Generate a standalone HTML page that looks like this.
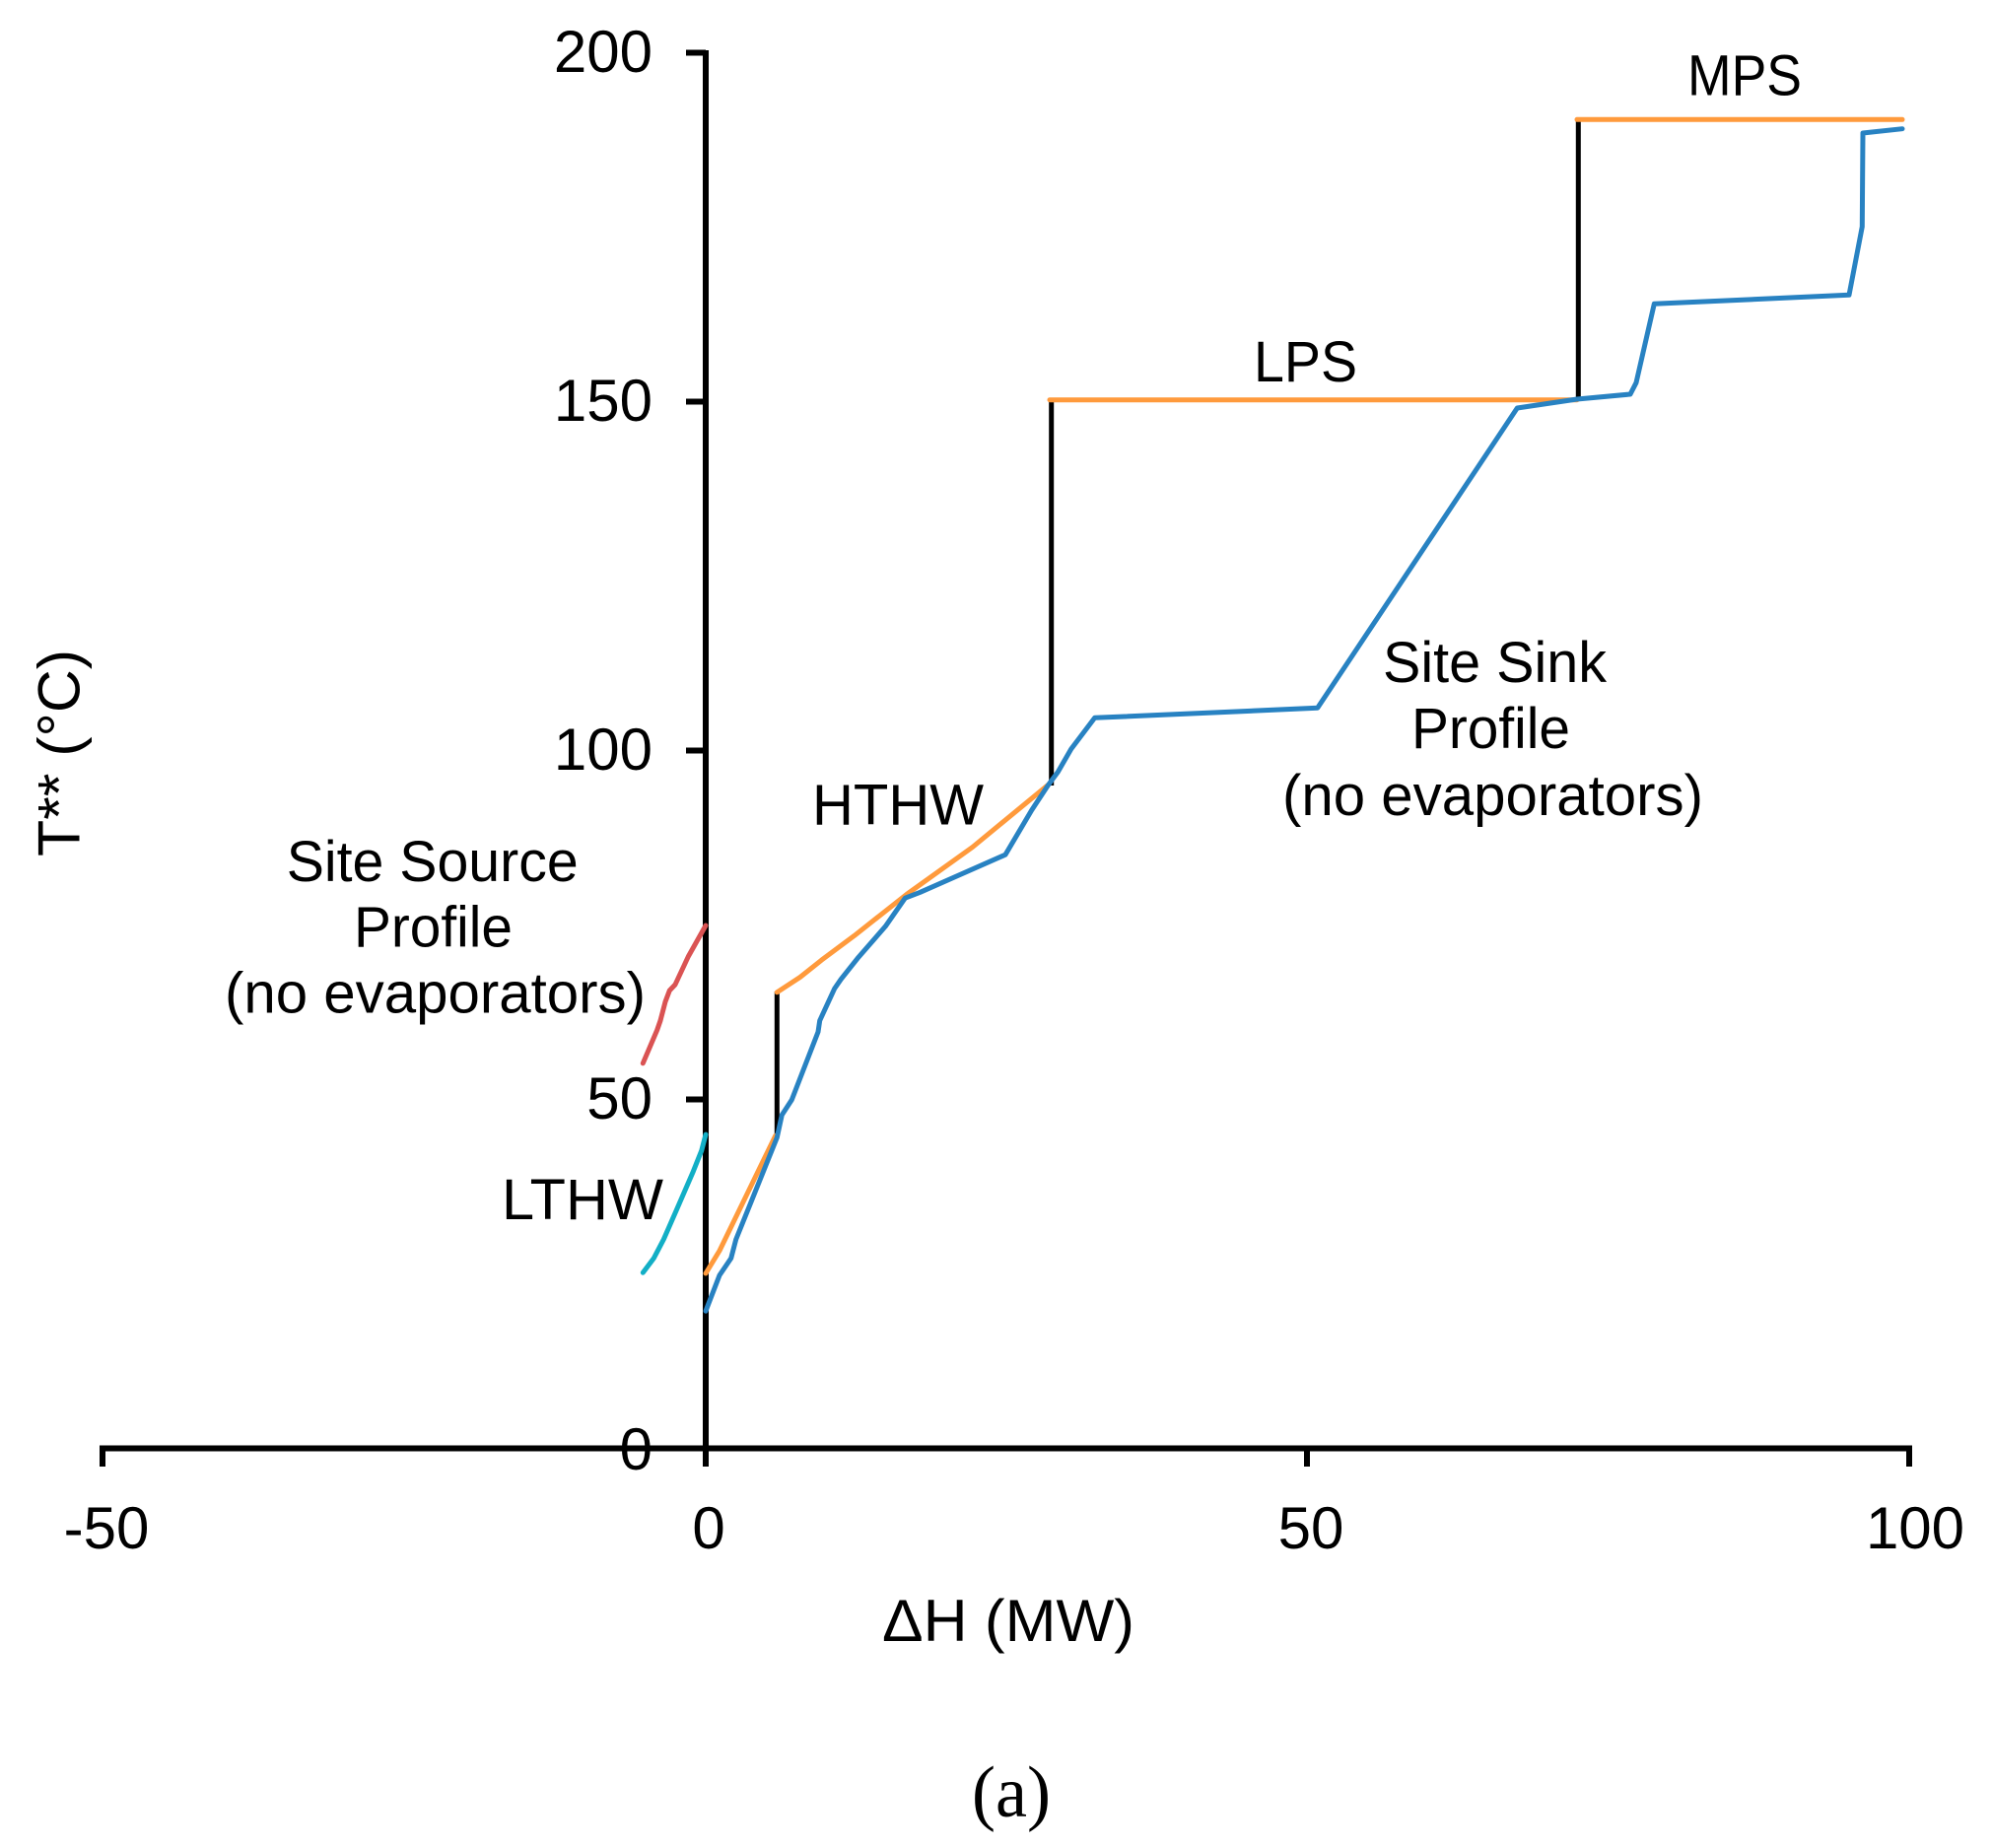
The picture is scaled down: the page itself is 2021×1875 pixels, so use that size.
<!DOCTYPE html>
<html>
<head>
<meta charset="utf-8">
<style>
  html, body { margin: 0; padding: 0; background: #ffffff; }
  svg { display: block; }
  .t { font-family: "Liberation Sans", Arial, sans-serif; fill: #000; }
  .s { font-family: "Liberation Serif", "Times New Roman", serif; fill: #000; }
</style>
</head>
<body>
<svg width="2021" height="1875" viewBox="0 0 2021 1875" xmlns="http://www.w3.org/2000/svg">
  <rect x="0" y="0" width="2021" height="1875" fill="#ffffff"/>

  <!-- Axes -->
  <g stroke="#000" stroke-width="6" fill="none" stroke-linecap="butt">
    <line x1="716" y1="51" x2="716" y2="1488"/>
    <line x1="101" y1="1469.5" x2="1940" y2="1469.5"/>
    <!-- y ticks -->
    <line x1="696" y1="53.5" x2="716" y2="53.5"/>
    <line x1="696" y1="407.5" x2="716" y2="407.5"/>
    <line x1="696" y1="761.5" x2="716" y2="761.5"/>
    <line x1="696" y1="1115.5" x2="716" y2="1115.5"/>
    <!-- x ticks -->
    <line x1="104" y1="1467" x2="104" y2="1488"/>
    <line x1="1326" y1="1469.5" x2="1326" y2="1488"/>
    <line x1="1937" y1="1467" x2="1937" y2="1488"/>
  </g>

  <!-- Y tick labels -->
  <g class="t" font-size="60" text-anchor="end">
    <text x="662" y="73">200</text>
    <text x="662" y="427">150</text>
    <text x="662" y="781">100</text>
    <text x="662" y="1135">50</text>
    <text x="662" y="1491">0</text>
  </g>

  <!-- X tick labels -->
  <g class="t" font-size="60" text-anchor="middle">
    <text x="108" y="1571">-50</text>
    <text x="719" y="1571">0</text>
    <text x="1330" y="1571">50</text>
    <text x="1943" y="1571">100</text>
  </g>

  <!-- Axis titles -->
  <text class="t" font-size="60" x="895" y="1665" textLength="256" lengthAdjust="spacingAndGlyphs">ΔH (MW)</text>
  <text class="t" font-size="60" text-anchor="middle" transform="translate(80.5,764) rotate(-90)" textLength="210" lengthAdjust="spacingAndGlyphs">T** (°C)</text>

  <!-- Black vertical connectors -->
  <g stroke="#000" stroke-width="5" fill="none">
    <line x1="788.3" y1="1152" x2="788.3" y2="1006"/>
    <line x1="1066.7" y1="797" x2="1066.7" y2="405"/>
    <line x1="1601.3" y1="405" x2="1601.3" y2="121"/>
  </g>

  <!-- Orange utility profiles -->
  <g stroke="#FF9A3C" stroke-width="5" fill="none" stroke-linecap="round" stroke-linejoin="round">
    <polyline points="716,1292 730,1269 786.7,1152.3"/>
    <polyline points="788.3,1006.8 811.7,991.5 833.3,974.3 866.7,949.4 920,907.3 986.7,859.5 1063.3,796.4"/>
    <line x1="1065" y1="405.7" x2="1600" y2="405.7"/>
    <line x1="1600" y1="121.3" x2="1930" y2="121.3"/>
  </g>

  <!-- Red source profile -->
  <polyline points="652.3,1078.8 666.7,1045 670,1035.5 675,1016.4 679.3,1005 685,999 698.3,970.5 716,939"
    stroke="#DA5353" stroke-width="5" fill="none" stroke-linecap="round" stroke-linejoin="round"/>

  <!-- Cyan LTHW -->
  <polyline points="652.3,1291.2 663.3,1276.6 673.3,1257.5 686.7,1226.9 703.3,1188.6 711.7,1167.6 716,1151.1"
    stroke="#12AFC6" stroke-width="5" fill="none" stroke-linecap="round" stroke-linejoin="round"/>

  <!-- Blue sink profile -->
  <polyline points="716,1330.2 730,1293.9 741.7,1276.6 746.7,1257.5 788.3,1154.2 793.3,1131.2 803.3,1115.9 830,1047 831.7,1035.5 846.7,1003 853.3,993.4 870,972.4 898.3,939.9 918.3,911.2 933.3,905.4 1020,867.2 1046.7,822 1063.3,796.7 1073.3,783.3 1086.7,760 1110.7,728.3 1336.7,718.3 1539.3,414 1600,405 1654,400 1660,388.3 1678.3,308.3 1876,299.3 1889.3,230 1890,135 1930,130.7"
    stroke="#2882C2" stroke-width="5" fill="none" stroke-linecap="round" stroke-linejoin="round"/>

  <!-- Annotations -->
  <g class="t" font-size="58">
    <text x="1712" y="96.7" textLength="116" lengthAdjust="spacingAndGlyphs">MPS</text>
    <text x="1272" y="387" textLength="105" lengthAdjust="spacingAndGlyphs">LPS</text>
    <text x="824" y="836.5" textLength="174" lengthAdjust="spacingAndGlyphs">HTHW</text>
    <text x="509" y="1237" textLength="164" lengthAdjust="spacingAndGlyphs">LTHW</text>

    <text x="290.7" y="894" textLength="296" lengthAdjust="spacingAndGlyphs">Site Source</text>
    <text x="359" y="960.7" textLength="161" lengthAdjust="spacingAndGlyphs">Profile</text>
    <text x="228" y="1027.3" textLength="427" lengthAdjust="spacingAndGlyphs">(no evaporators)</text>

    <text x="1403" y="692" textLength="227" lengthAdjust="spacingAndGlyphs">Site Sink</text>
    <text x="1432" y="759" textLength="161" lengthAdjust="spacingAndGlyphs">Profile</text>
    <text x="1301" y="827" textLength="427" lengthAdjust="spacingAndGlyphs">(no evaporators)</text>
  </g>

  <!-- Caption -->
  <text class="s" font-size="74" x="986" y="1843" textLength="80" lengthAdjust="spacingAndGlyphs">(a)</text>
</svg>
</body>
</html>
